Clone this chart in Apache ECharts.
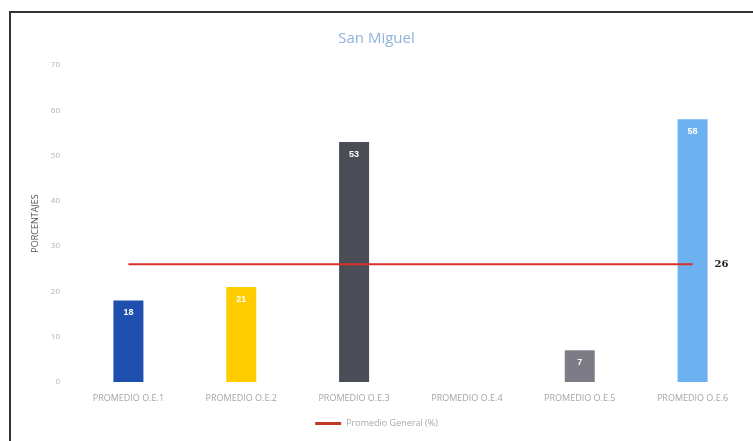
<!DOCTYPE html>
<html>
<head>
<meta charset="utf-8">
<script src="https://cdn.jsdelivr.net/npm/echarts@6/dist/echarts.min.js"></script>
<style>
html,body{margin:0;padding:0;background:#fff;overflow:hidden;}
#frame{position:absolute;left:9px;top:11px;width:760px;height:440px;border:2px solid #333;box-sizing:border-box;}
#c{position:absolute;left:0;top:0;width:753px;height:441px;}
</style>
</head>
<body>
<div id="frame"></div>
<div id="c"></div>
<script>
const categories = ['PROMEDIO O.E.1','PROMEDIO O.E.2','PROMEDIO O.E.3','PROMEDIO O.E.4','PROMEDIO O.E.5','PROMEDIO O.E.6'];
const barValues = [18, 21, 53, 0, 7, 58];
const barColors = ['#1f4fae','#ffcc00','#4a4d56','#888888','#7d7b85','#6cb2f0'];
const averageValues = [26, 26, 26, 26, 26, 26];
const yTicks = [0, 10, 20, 30, 40, 50, 60, 70];

const chart = echarts.init(document.getElementById('c'));
chart.setOption({
  animation: false,
  backgroundColor: 'transparent',
  title: {
    text: 'San Miguel', left: 'center', top: 26,
    textStyle: {color: '#8fb3dc', fontSize: 15, fontWeight: 'normal', fontFamily: 'Open Sans'}
  },
  legend: {
    data: ['Promedio General (%)'], bottom: 8, left: 'center',
    itemWidth: 26, itemHeight: 3, icon: 'rect',
    textStyle: {color: '#aaa', fontSize: 9, fontFamily: 'Open Sans'}
  },
  grid: {left: 72, right: 4, top: 65, bottom: 59},
  xAxis: {
    type: 'category', data: categories,
    axisLine: {show: false}, axisTick: {show: false},
    axisLabel: {color: '#a5a5a5', fontSize: 9, margin: 12, fontFamily: 'Open Sans'}
  },
  yAxis: {
    type: 'value', min: yTicks[0], max: yTicks[yTicks.length-1], interval: 10,
    name: 'PORCENTAJES', nameLocation: 'middle', nameGap: 31, nameRotate: 90,
    nameTextStyle: {color: '#555', fontSize: 9, fontFamily: 'Open Sans'},
    axisLine: {show: false}, axisTick: {show: false}, splitLine: {show: false},
    axisLabel: {color: '#b0b0b0', fontSize: 8, margin: 12, fontFamily: 'Open Sans'}
  },
  series: [
    {
      name: 'Promedios', type: 'bar', barWidth: 30,
      data: barValues.map((v, i) => ({value: v, itemStyle: {color: barColors[i]}})),
      label: {
        show: true, position: 'insideTop', distance: 8, color: '#fff', fontSize: 9, fontWeight: 'bold',
        formatter: p => p.value ? String(p.value) : ''
      }
    },
    {
      name: 'Promedio General (%)', type: 'line', data: averageValues,
      symbol: 'none', z: 5,
      lineStyle: {color: '#d8312a', width: 2},
      itemStyle: {color: '#c0392b'},
      endLabel: {show: true, color: '#222', fontSize: 10, fontWeight: 'bold', distance: 22, fontFamily: 'DejaVu Serif'}
    }
  ]
});
</script>
</body>
</html>
